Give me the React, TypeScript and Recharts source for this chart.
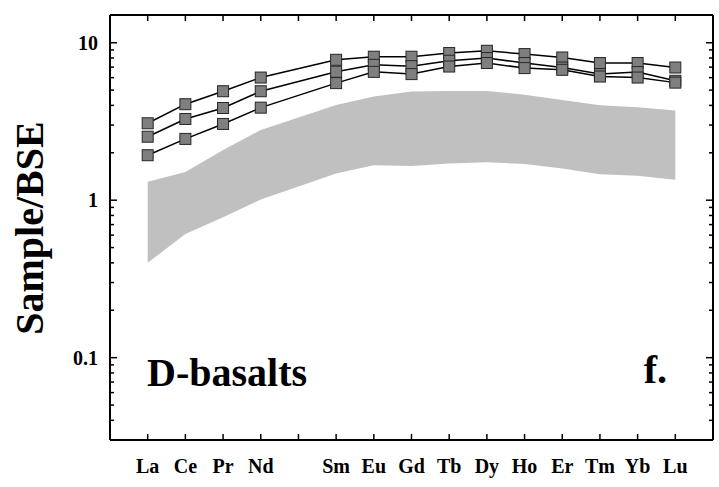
import React from "react";
import { ComposedChart, Area, Line, XAxis, YAxis } from "recharts";

// REE order (Pm kept as an empty slot so the spacing matches the plot)
const elements = ["La", "Ce", "Pr", "Nd", "Pm", "Sm", "Eu", "Gd", "Tb", "Dy", "Ho", "Er", "Tm", "Yb", "Lu"];
const tickLabels = ["La", "Ce", "Pr", "Nd", "", "Sm", "Eu", "Gd", "Tb", "Dy", "Ho", "Er", "Tm", "Yb", "Lu"];

const sampleA = [3.08, 4.07, 4.92, 6.01, null, 7.79, 8.15, 8.15, 8.6, 8.89, 8.47, 8.06, 7.43, 7.43, 6.96];
const sampleB = [2.53, 3.28, 3.85, 4.92, null, 6.54, 7.24, 7.1, 7.68, 7.99, 7.43, 6.96, 6.32, 6.51, 5.73];
const sampleC = [1.93, 2.45, 3.05, 3.87, null, 5.54, 6.53, 6.32, 7.06, 7.43, 6.9, 6.73, 6.1, 6.01, 5.58];

const fieldLow = [0.4, 0.61, 0.78, 1.01, null, 1.48, 1.67, 1.65, 1.71, 1.74, 1.7, 1.59, 1.46, 1.43, 1.35];
const fieldHigh = [1.31, 1.51, 2.08, 2.79, null, 4.03, 4.55, 4.9, 4.94, 4.94, 4.67, 4.33, 4.01, 3.89, 3.71];

const yTicks = [
  0.03, 0.04, 0.05, 0.06, 0.07, 0.08, 0.09,
  0.1, 0.2, 0.3, 0.4, 0.5, 0.6, 0.7, 0.8, 0.9,
  1, 2, 3, 4, 5, 6, 7, 8, 9, 10,
];
const xTicks = elements.map((_, i) => i);

const data = elements.map((el, i) => ({
  x: i,
  el,
  a: sampleA[i],
  b: sampleB[i],
  c: sampleC[i],
  field: fieldLow[i] == null ? null : [fieldLow[i], fieldHigh[i]],
}));

const FONT = '"Liberation Serif", "Times New Roman", serif';

const isMajor = (v: number) => Math.abs(Math.log10(v) - Math.round(Math.log10(v))) < 1e-6;

const LeftTick = (props: any) => {
  const { x, y, payload } = props;
  const major = isMajor(payload.value);
  return (
    <g>
      <line x1={x} y1={y} x2={x + (major ? 7 : 4)} y2={y} stroke="#000" strokeWidth={1.5} />
      {major && (
        <text x={x - 12} y={y + 7} textAnchor="end" fontFamily={FONT} fontWeight="bold" fontSize={20} fill="#000">
          {payload.value}
        </text>
      )}
    </g>
  );
};

const RightTick = (props: any) => {
  const { x, y, payload } = props;
  const major = isMajor(payload.value);
  return <line x1={x} y1={y} x2={x - (major ? 7 : 4)} y2={y} stroke="#000" strokeWidth={1.5} />;
};

const BottomTick = (props: any) => {
  const { x, y, payload } = props;
  return (
    <g>
      <line x1={x} y1={y} x2={x} y2={y - 6} stroke="#000" strokeWidth={1.5} />
      <text x={x} y={y + 33} textAnchor="middle" fontFamily={FONT} fontWeight="bold" fontSize={20} fill="#000">
        {tickLabels[payload.value]}
      </text>
    </g>
  );
};

const TopTick = (props: any) => {
  const { x, y } = props;
  return <line x1={x} y1={y} x2={x} y2={y + 6} stroke="#000" strokeWidth={1.5} />;
};

const Square = (props: any) => {
  const { cx, cy, index } = props;
  if (cx == null || cy == null || props.value == null) return <g key={`n-${index}`} />;
  return (
    <rect
      key={`s-${index}`}
      x={cx - 5.5}
      y={cy - 5.5}
      width={11}
      height={11}
      fill="#7f7f7f"
      stroke="#262626"
      strokeWidth={1}
    />
  );
};

export default function App() {
  return (
    <div style={{ position: "absolute", left: 0, top: 0, width: 719, height: 487, background: "#fff" }}>
      <style>{`body{margin:0}`}</style>
      <ComposedChart width={719} height={487} data={data} margin={{ top: 5, right: 1, bottom: 7, left: 10 }}>
        <XAxis
          dataKey="x"
          type="number"
          domain={[-1, 15]}
          ticks={xTicks}
          height={40}
          tickSize={0}
          tickMargin={0}
          tickLine={false}
          tick={<BottomTick />}
          axisLine={{ stroke: "#000", strokeWidth: 2 }}
          allowDataOverflow
          interval={0}
        />
        <XAxis
          xAxisId="t"
          orientation="top"
          dataKey="x"
          type="number"
          domain={[-1, 15]}
          ticks={xTicks}
          height={10}
          tickSize={0}
          tickMargin={0}
          tickLine={false}
          tick={<TopTick />}
          axisLine={{ stroke: "#000", strokeWidth: 2 }}
          allowDataOverflow
          interval={0}
        />
        <YAxis
          type="number"
          scale="log"
          domain={[0.03, 15]}
          ticks={yTicks}
          width={100}
          tickSize={0}
          tickMargin={0}
          tickLine={false}
          tick={<LeftTick />}
          axisLine={{ stroke: "#000", strokeWidth: 2 }}
          allowDataOverflow
          interval={0}
        />
        <YAxis
          yAxisId="r"
          orientation="right"
          type="number"
          scale="log"
          domain={[0.03, 15]}
          ticks={yTicks}
          width={5}
          tickSize={0}
          tickMargin={0}
          tickLine={false}
          tick={<RightTick />}
          axisLine={{ stroke: "#000", strokeWidth: 2 }}
          allowDataOverflow
          interval={0}
        />
        <Area
          dataKey="field"
          fill="#c0c0c0"
          fillOpacity={1}
          stroke="none"
          connectNulls
          isAnimationActive={false}
          activeDot={false}
        />
        {["a", "b", "c"].map((k) => (
          <Line
            key={k}
            dataKey={k}
            stroke="#000"
            strokeWidth={1.5}
            connectNulls
            dot={Square}
            activeDot={false}
            isAnimationActive={false}
          />
        ))}
      </ComposedChart>
      <svg
        width={719}
        height={487}
        style={{ position: "absolute", left: 0, top: 0, pointerEvents: "none" }}
      >
        <text
          x={43}
          y={228}
          transform="rotate(-90, 43, 228)"
          textAnchor="middle"
          fontFamily={FONT}
          fontWeight="bold"
          fontSize={40}
          fill="#000"
        >
          Sample/BSE
        </text>
        <text x={147} y={386} fontFamily={FONT} fontWeight="bold" fontSize={40} fill="#000">
          D-basalts
        </text>
        <text x={667} y={383} textAnchor="end" fontFamily={FONT} fontWeight="bold" fontSize={40} fill="#000">
          f.
        </text>
      </svg>
    </div>
  );
}
